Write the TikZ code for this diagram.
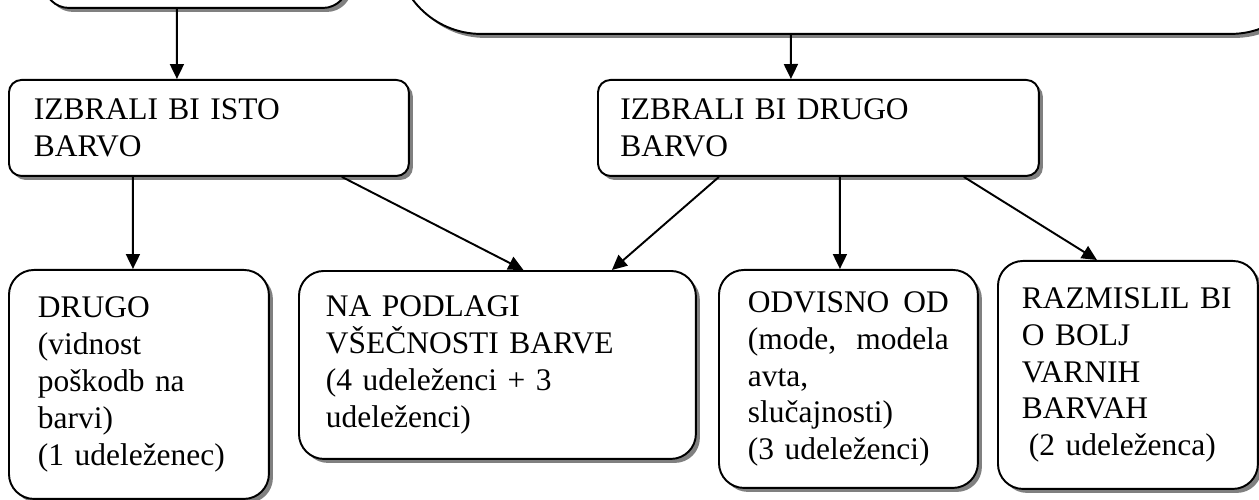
\documentclass[tikz,border=0pt]{standalone}
\usepackage{fontspec}
\setmainfont{Liberation Serif}
\usetikzlibrary{arrows.meta}
\usetikzlibrary{shadows}

\newcommand{\boxfont}{\fontsize{17.9pt}{21pt}\selectfont}

\tikzset{
  box/.style={draw, line width=1.1pt, fill=white, anchor=north west,
    align=left, font=\boxfont, inner ysep=0pt,
    drop shadow={shadow xshift=0.08cm, shadow yshift=-0.08cm, fill=gray, opacity=1}},
  bigbox/.style={box, rounded corners=0.5cm},
  flatbox/.style={box, rounded corners=0.25cm},
  arr/.style={line width=1.1pt, -{Triangle[length=0.3cm, width=0.28cm]}}
}

\begin{document}
\begin{tikzpicture}[x=0.02cm, y=-0.02cm]
      \useasboundingbox (0,0) rectangle (1259,500);
      \clip (0,0) rectangle (1259,500);

      \node[bigbox, minimum width=6.08cm, minimum height=2.14cm] (prev1) at (43,-100) {};
      \node[bigbox, rounded corners=1.7cm, minimum width=18.4cm, minimum height=5.66cm] (prev2) at (395,-250) {};

      \node[flatbox, inner xsep=0.5cm, text width=7cm, minimum height=1.92cm] (same) at (8,79) {IZBRALI BI ISTO\\BARVO};
      \node[flatbox, inner xsep=0.45cm, text width=7.92cm, minimum height=1.92cm] (other) at (597,79) {IZBRALI BI DRUGO\\BARVO};

      \node[bigbox, inner xsep=0.58cm, text width=4.04cm, minimum height=4.58cm] (b1) at (8,269)
        {DRUGO\\(vidnost\\poškodb na\\barvi)\\(1 udeleženec)};
      \node[bigbox, inner xsep=0.54cm, text width=6.86cm, minimum height=3.76cm] (b2) at (298,270)
        {NA PODLAGI\\VŠEČNOSTI BARVE\\(4 udeleženci + 3\\udeleženci)};
      \node[bigbox, inner xsep=0.58cm, text width=4.02cm, minimum height=4.36cm] (b3) at (718,269)
        {ODVISNO\hfill OD\\(mode,\hfill modela\\avta,\\slučajnosti)\\(3 udeleženci)};
      \node[bigbox, inner xsep=0.48cm, text width=4.24cm, minimum height=4.56cm] (b4) at (997,260)
        {RAZMISLIL BI\\O BOLJ\\VARNIH\\BARVAH\\\hspace*{4pt}(2 udeleženca)};

      \draw[arr] ([xshift=-0.38cm]prev1.south) -- ([xshift=-0.64cm]same.north);
      \draw[arr] ([xshift=-1.3cm]prev2.south) -- ([xshift=-0.55cm]other.north);

      \draw[arr] ([xshift=-1.52cm]same.south) -- ([xshift=-0.12cm]b1.north);
      \draw[arr] ([xshift=2.66cm]same.south) -- ([xshift=0.52cm]b2.north);
      \draw[arr] ([xshift=-1.99cm]other.south) -- ([xshift=2.29cm]b2.north);
      \draw[arr] ([xshift=0.43cm]other.south) -- ([xshift=-0.17cm]b3.north);
      \draw[arr] ([xshift=2.91cm]other.south) -- ([xshift=-0.62cm]b4.north);
\end{tikzpicture}
\end{document}
